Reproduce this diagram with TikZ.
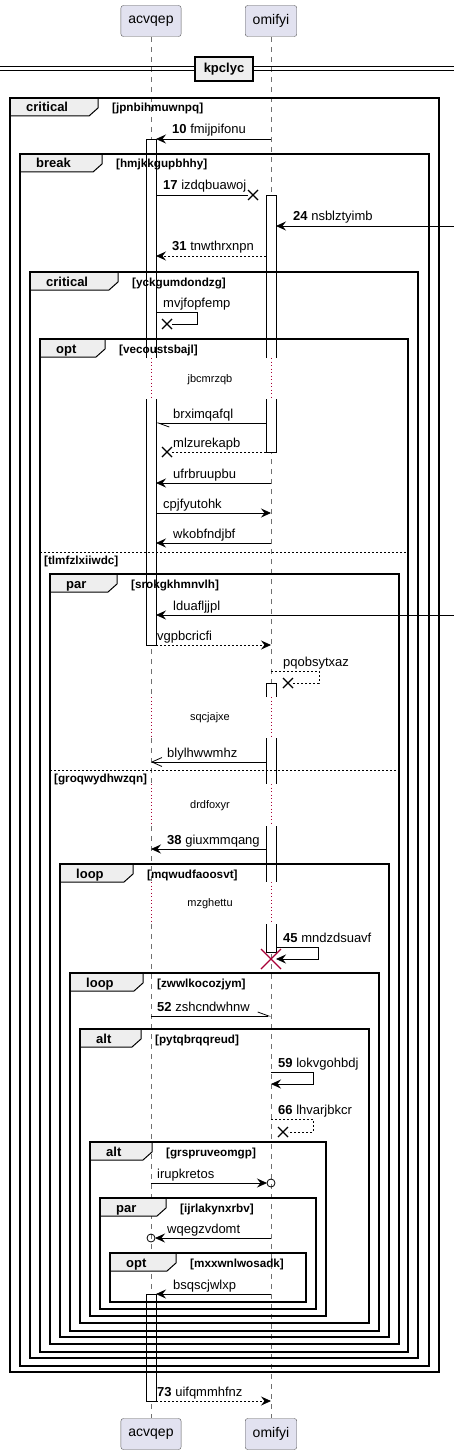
\documentclass[tikz,border=0pt]{standalone}
\usepackage{fontspec}
\setmainfont{Liberation Sans}
\usetikzlibrary{arrows.meta,calc,positioning}

\definecolor{partfill}{HTML}{E2E2F0}
\definecolor{partline}{HTML}{5A5A5A}
\definecolor{lifegray}{HTML}{707070}
\definecolor{delayred}{HTML}{A80036}
\definecolor{tabgray}{HTML}{EEEEEE}

% X at the end of a lost message: [colour]{coordinate}{half size}
\newcommand\lostx[3][black]{%
  \draw[#1, line width=1.3pt] ([shift={(-#3,-#3)}]#2) -- ([shift={(#3,#3)}]#2)
    ([shift={(-#3,#3)}]#2) -- ([shift={(#3,-#3)}]#2);}
% group frame: left, top, right, bottom, tab right, keyword, guard, name
\newcommand\grp[8]{%
  \filldraw[tab] (#1,#2) -- (#5,#2) -- (#5,#2+10) -- (#5-9,#2+18) -- (#1,#2+18) -- cycle;
  \draw[frame] (#1,#2) rectangle (#3,#4);
  \node[kw] (#8k) at (#1+16,#2+14) {#6};
  \node[guard] (#8g) at (#5+14,#2+14) {[#7]};}

\begin{document}
\begin{tikzpicture}[x=1pt, y=-1pt,
  part/.style={draw=partline, fill=partfill, rounded corners=2.5pt, minimum height=31pt,
    inner xsep=7.5pt, font=\fontsize{14}{16}\selectfont},
  life/.style={lifegray, dash pattern=on 5pt off 5pt, line width=0.7pt},
  delay/.style={delayred, dash pattern=on 1pt off 2.5pt, line width=0.8pt},
  bar/.style={draw=black, fill=white, line width=0.8pt},
  frame/.style={line width=1.5pt},
  tab/.style={fill=tabgray, draw=black, line width=1pt},
  kw/.style={anchor=base west, inner sep=0pt, font=\fontsize{13}{15}\selectfont\bfseries},
  guard/.style={anchor=base west, inner sep=0pt, font=\fontsize{11.7}{13}\selectfont\bfseries},
  sep/.style={line width=0.8pt, dash pattern=on 2pt off 2pt},
  plain/.style={line width=0.8pt},
  msg/.style={plain, -{Stealth[length=10pt,width=9pt,inset=3.5pt]}},
  ret/.style={msg, dash pattern=on 2pt off 2pt},
  openmsg/.style={plain, -{Straight Barb[length=10pt,width=9pt]}},
  half/.style={plain, -{Straight Barb[left,length=11pt,width=8pt]}},
  lbl/.style={anchor=base west, inner sep=0pt, font=\fontsize{13}{15}\selectfont},
  dly/.style={inner sep=0pt, font=\fontsize{11}{13}\selectfont}]
\useasboundingbox (0,0) rectangle (454,1455);

% participants
\node[part] (A) at (151,21) {acvqep};
\node[part] (B) at (271,21) {omifyi};
\node[part] (Abot) at (151,1434) {acvqep};
\node[part] (Bbot) at (271,1434) {omifyi};
\coordinate[left=5pt of A.center] (Al);
\coordinate[right=5pt of A.center] (Ar);
\coordinate[left=5pt of B.center] (Bl);
\coordinate[right=5pt of B.center] (Br);
\coordinate (E) at (454,0);

% lifelines and delays
\foreach \ya/\yb in {37/358,399/697,738/784,826/882,924/1418}
  \draw[life] (A |- 0,\ya) -- (A |- 0,\yb) (B |- 0,\ya) -- (B |- 0,\yb);
\foreach \ya/\yb in {358/399,697/738,784/826,882/924}
  \draw[delay] (A |- 0,\ya) -- (A |- 0,\yb) (B |- 0,\ya) -- (B |- 0,\yb);

% activations
\draw[bar] (146,358) -- (146,139) -- (156,139) -- (156,358);
\draw[bar] (146,399) -- (146,645) -- (156,645) -- (156,399);
\draw[bar] (146,1294) rectangle (156,1401);
\draw[bar] (266,358) -- (266,195) -- (276,195) -- (276,358);
\draw[bar] (266,399) -- (266,452) -- (276,452) -- (276,399);
\draw[bar] (266,697) -- (266,683) -- (276,683) -- (276,697);
\fill[white] (266,738) rectangle (276,784) (266,826) rectangle (276,882);
\draw[bar] (266,738) -- (266,784) (276,738) -- (276,784) (266,826) -- (266,882) (276,826) -- (276,882);
\draw[bar] (266,924) -- (266,952) -- (276,952) -- (276,924);

% divider
\draw[plain] (0,66) -- (454,66) (0,70.5) -- (454,70.5);
\node[draw, line width=1.5pt, fill=tabgray, minimum height=24pt, inner xsep=9pt,
  font=\fontsize{13}{15}\selectfont\bfseries] (div) at (224,69) {kpclyc};

% groups
\grp{10}{98}{439}{1372}{98}{critical}{jpnbihmuwnpq}{g1}
\grp{20}{154}{429}{1366}{102}{break}{hmjkkgupbhhy}{g2}
\grp{30}{272}{418}{1358}{118}{critical}{yckgumdondzg}{g3}
\grp{40}{339}{408}{1352}{105}{opt}{vecoustsbajl}{g4}
\grp{50}{574}{399}{1344}{117}{par}{srokgkhmnvlh}{g5}
\grp{60}{864}{389}{1337}{133}{loop}{mqwudfaoosvt}{g6}
\grp{70}{973}{379}{1331}{143}{loop}{zwwlkocozjym}{g7}
\grp{80}{1029}{369}{1323}{141}{alt}{pytqbrqqreud}{g8}
\grp{90}{1142}{326}{1316}{152}{alt}{grspruveomgp}{g9}
\grp{100}{1198}{316}{1309}{166}{par}{ijrlakynxrbv}{g10}
\grp{110}{1253}{306}{1302}{176}{opt}{mxxwnlwosadk}{g11}
\draw[sep] (40,552) -- (408,552);
\node[guard] (g4s) at (44,564) {[tlmfzlxiiwdc]};
\draw[sep] (50,770) -- (399,770);
\node[guard] (g5s) at (54,782) {[groqwydhwzqn]};

% messages
\draw[msg] (B |- 0,139) -- (Ar |- 0,139);
\node[lbl] (m10) at (172,134) {\textbf{10} fmijpifonu};
\coordinate (x17) at (253,195);
\draw[plain] (Ar |- x17) -- ([xshift=-5pt]x17);
\lostx{x17}{5}
\node[lbl] (m17) at (163,190) {\textbf{17} izdqbuawoj};
\draw[msg] (E |- 0,226) -- (Br |- 0,226);
\node[lbl] (m24) at (293,221) {\textbf{24} nsblztyimb};
\draw[ret] (Bl |- 0,256) -- (Ar |- 0,256);
\node[lbl] (m31) at (172,251) {\textbf{31} tnwthrxnpn};
\coordinate (x5) at (167,324);
\draw[plain] (Ar |- 0,312) -- ++(41,0) -- ++(0,12) -- ([xshift=5pt]x5);
\lostx{x5}{5}
\node[lbl] (m5) at (163,307) {mvjfopfemp};
\node[dly] (d1) at (210,380) {jbcmrzqb};
\draw[half] (Bl |- 0,423) -- (Ar |- 0,423);
\node[lbl] (m7) at (173,418) {brximqafql};
\coordinate (x8) at (167,452);
\draw[plain, dash pattern=on 2pt off 2pt] (Bl |- x8) -- ([xshift=5pt]x8);
\lostx{x8}{5}
\node[lbl] (m8) at (173,447) {mlzurekapb};
\draw[msg] (B |- 0,483) -- (Ar |- 0,483);
\node[lbl] (m9) at (173,478) {ufrbruupbu};
\draw[msg] (Ar |- 0,513) -- (B |- 0,513);
\node[lbl] (m10b) at (163,508) {cpjfyutohk};
\draw[msg] (B |- 0,543) -- (Ar |- 0,543);
\node[lbl] (m11) at (173,538) {wkobfndjbf};
\draw[msg] (E |- 0,615) -- (Ar |- 0,615);
\node[lbl] (m12) at (173,610) {lduafljjpl};
\draw[ret] (Ar |- 0,645) -- (B |- 0,645);
\node[lbl] (m13) at (157,640) {vgpbcricfi};
\coordinate (x14) at (288,683);
\draw[plain, dash pattern=on 2pt off 2pt] (B |- 0,671) -- ++(48,0) -- ++(0,12) -- ([xshift=5pt]x14);
\lostx{x14}{5}
\node[lbl] (m14) at (283,666) {pqobsytxaz};
\node[dly] (d2) at (210,718) {sqcjajxe};
\draw[openmsg] (Bl |- 0,762) -- (A |- 0,762);
\node[lbl] (m16) at (167,757) {blylhwwmhz};
\node[dly] (d3) at (210,806) {drdfoxyr};
\draw[msg] (Bl |- 0,849) -- (A |- 0,849);
\node[lbl] (m38) at (167,844) {\textbf{38} giuxmmqang};
\node[dly] (d4) at (210,904) {mzghettu};
\draw[msg] (Br |- 0,947) -- ++(42,0) -- ++(0,12) -- (Br |- 0,959);
\node[lbl] (m45) at (283,942) {\textbf{45} mndzdsuavf};
\coordinate (x45) at (271,959);
\lostx[delayred]{x45}{10}
\draw[half] (A |- 0,1016) -- (B |- 0,1016);
\node[lbl] (m52) at (157,1011) {\textbf{52} zshcndwhnw};
\draw[msg] (B |- 0,1072) -- ++(42,0) -- ++(0,12) -- (B |- 0,1084);
\node[lbl] (m59) at (278,1067) {\textbf{59} lokvgohbdj};
\coordinate (x66) at (283,1132);
\draw[plain, dash pattern=on 2pt off 2pt] (B |- 0,1119) -- ++(42,0) -- ++(0,13) -- ([xshift=5pt]x66);
\lostx{x66}{5}
\node[lbl] (m66) at (278,1114) {\textbf{66} lhvarjbkcr};
\coordinate (c24) at (B |- 0,1183);
\draw[msg] (A |- c24) -- ([xshift=-4pt]c24);
\draw[plain] (c24) circle (4pt);
\node[lbl] (m24b) at (157,1178) {irupkretos};
\coordinate (c25) at (A |- 0,1238);
\draw[msg] (B |- c25) -- ([xshift=4pt]c25);
\draw[plain] (c25) circle (4pt);
\node[lbl] (m25) at (167,1233) {wqegzvdomt};
\draw[msg] (B |- 0,1294) -- (Ar |- 0,1294);
\node[lbl] (m26) at (173,1289) {bsqscjwlxp};
\draw[ret] (Ar |- 0,1401) -- (B |- 0,1401);
\node[lbl] (m73) at (157,1396) {\textbf{73} uifqmmhfnz};
\end{tikzpicture}
\end{document}
